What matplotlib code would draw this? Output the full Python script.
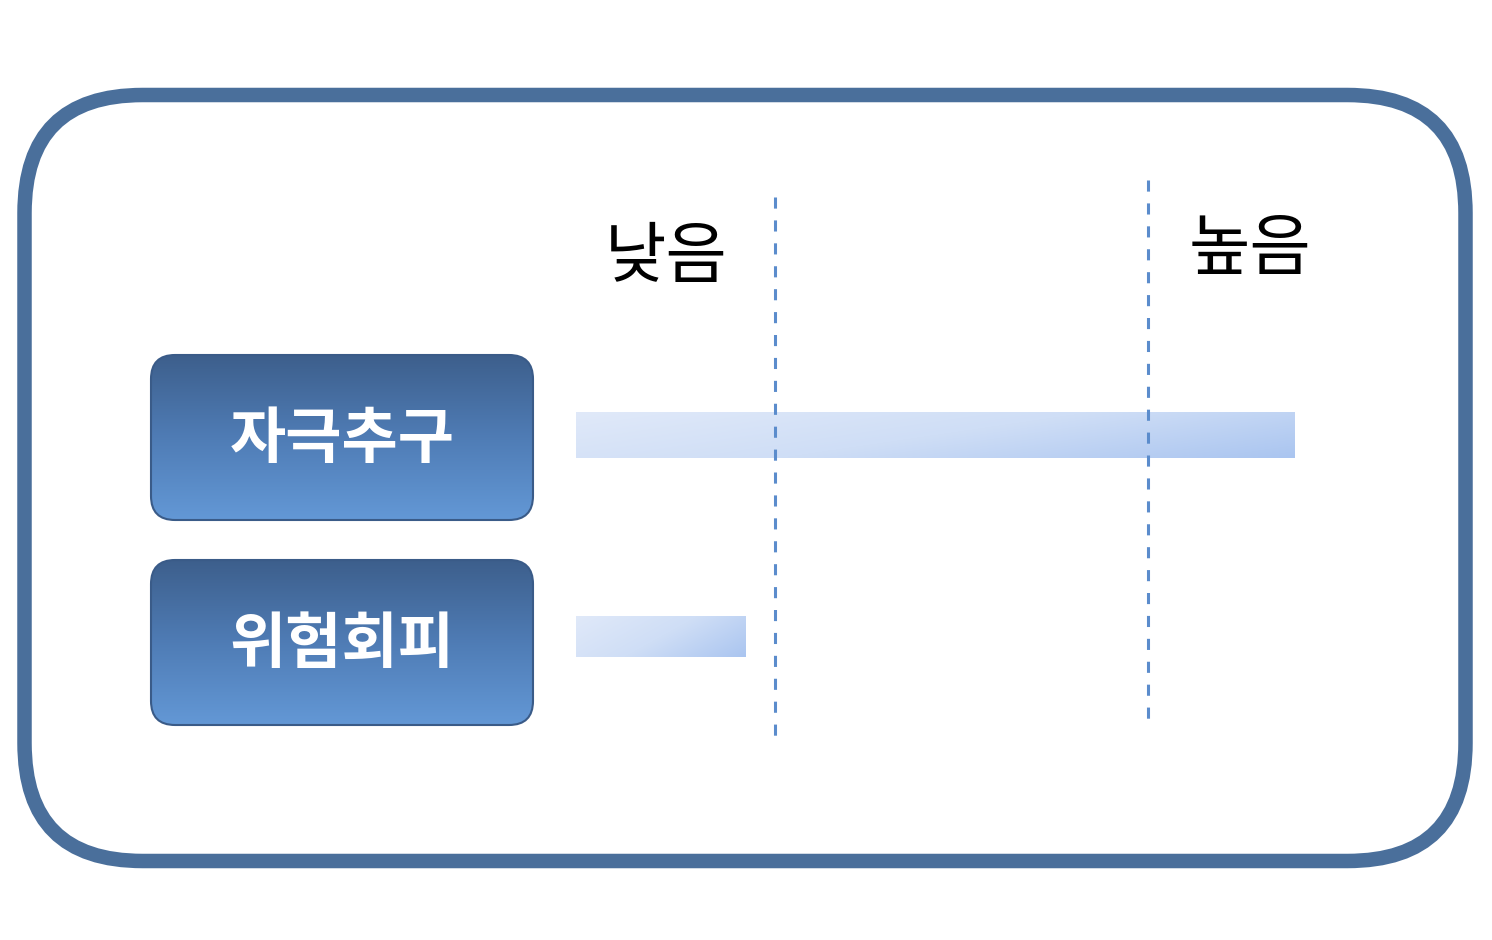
import numpy as np
import matplotlib
matplotlib.use("Agg")
import matplotlib.pyplot as plt
from matplotlib.patches import FancyBboxPatch
from matplotlib.colors import LinearSegmentedColormap

plt.rcParams['font.family'] = ['Noto Sans CJK KR', 'DejaVu Sans']
plt.rcParams['lines.scale_dashes'] = False

# ---- data ----
categories = ["자극추구", "위험회피"]
scores = [100.0, 23.6]            # bar length on a 0-100 scale
thresholds = [27.7, 79.6]         # low / high cut lines
level_labels = ["낮음", "높음"]

W, H = 1492, 940
fig = plt.figure(figsize=(W / 100, H / 100), dpi=100)
bg = fig.add_axes([0, 0, 1, 1])
bg.set_xlim(0, W)
bg.set_ylim(H, 0)
bg.axis("off")

# outer rounded frame
frame = FancyBboxPatch((24.5, 95), 1441, 766,
                       boxstyle="round,pad=0,rounding_size=118",
                       facecolor="none", edgecolor="#4a6f9b", linewidth=14.5 * 0.72)
bg.add_patch(frame)

# category boxes with vertical gradient
box_cmap = LinearSegmentedColormap.from_list("box", ["#3d5f8c", "#4f7cb5", "#6398d6"])
box_y = [355, 560]
for cat, y0 in zip(categories, box_y):
    patch = FancyBboxPatch((151, y0), 382, 165,
                           boxstyle="round,pad=0,rounding_size=24",
                           facecolor="none", edgecolor="#3a5b88", linewidth=1.5, zorder=3)
    bg.add_patch(patch)
    grad = np.linspace(0, 1, 256).reshape(-1, 1)
    im = bg.imshow(grad, cmap=box_cmap, extent=(151, 533, y0 + 165, y0),
                   aspect="auto", zorder=2, interpolation="bicubic")
    im.set_clip_path(patch)
    bg.text(342, y0 + 85, cat, color="white", fontsize=44, fontweight="bold",
            ha="center", va="center", zorder=4)

# level labels
bg.text(666, 258, level_labels[0], fontsize=48, ha="center", va="center", color="black")
bg.text(1250, 250, level_labels[1], fontsize=48, ha="center", va="center", color="black")

# ---- data axes for bars ----
x0_px, x1_px = 576, 1295
ax = fig.add_axes([x0_px / W, 0, (x1_px - x0_px) / W, 1])
ax.set_xlim(0, 100)
ax.set_ylim(H, 0)
ax.axis("off")
ax.patch.set_alpha(0)

bar_cmap = LinearSegmentedColormap.from_list("bar", ["#e0e9f9", "#cfdef6", "#aac5f0"])
bar_y = [435, 636.5]
bar_h = [46, 41]
xx, yy = np.meshgrid(np.linspace(0, 1, 300), np.linspace(0, 1, 60))
for val, yc, h in zip(scores, bar_y, bar_h):
    g = 0.7 * xx + 0.3 * yy
    ax.imshow(g, cmap=bar_cmap, extent=(0, val, yc + h / 2, yc - h / 2),
              aspect="auto", zorder=2, interpolation="bicubic")

# dashed threshold lines
line_spans = [(197, 740), (180, 723)]
for t, (ya, yb) in zip(thresholds, line_spans):
    ax.plot([t, t], [ya, yb], color="#5b8ccc", linewidth=2.2,
            dashes=(8, 8.5), zorder=3)

fig.savefig("out.png", dpi=100)
